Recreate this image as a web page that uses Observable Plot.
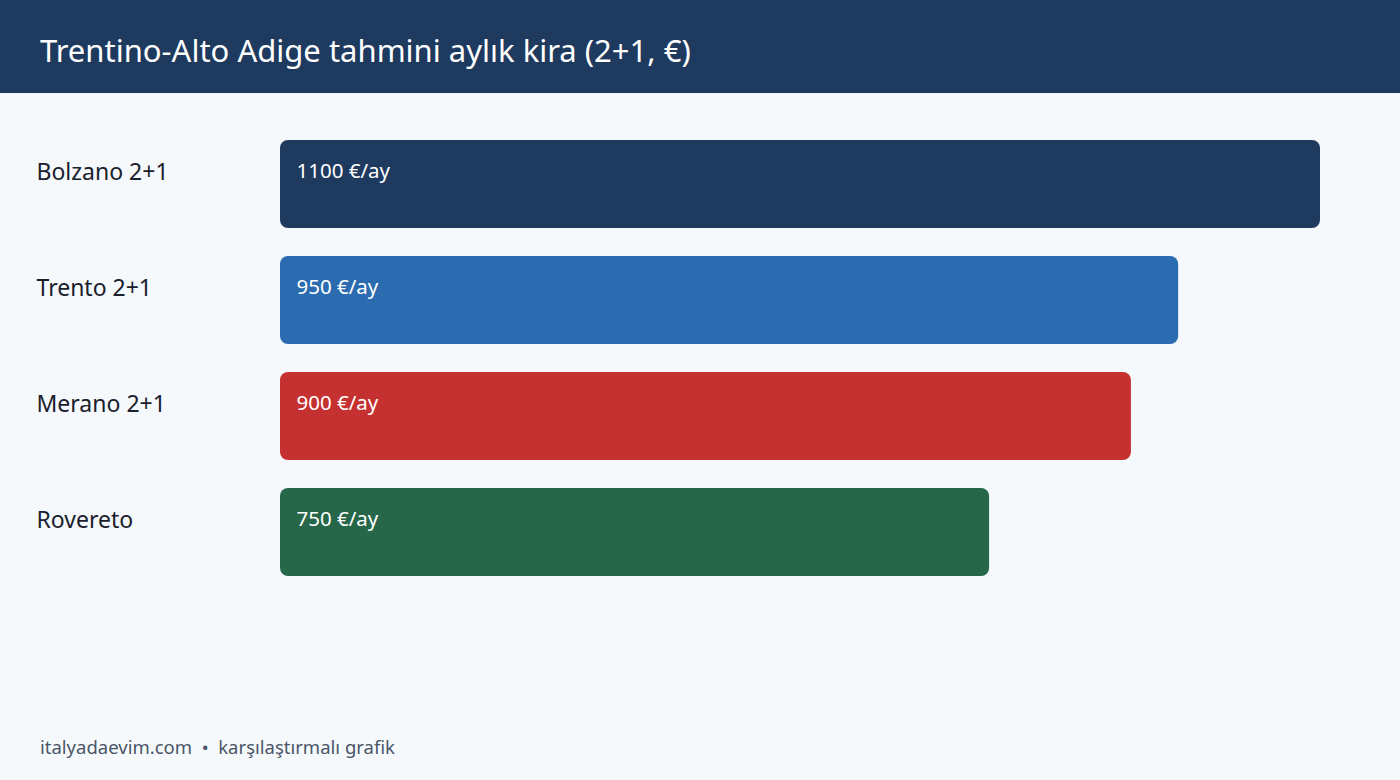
<!DOCTYPE html>
<html>
<head>
<meta charset="utf-8">
<script src="https://cdn.jsdelivr.net/npm/d3@7"></script>
<script src="https://cdn.jsdelivr.net/npm/@observablehq/plot@0.6"></script>
<style>
  html, body { margin: 0; padding: 0; width: 1400px; height: 780px; background: #f5f9fc; overflow: hidden; font-family: "Noto Sans", sans-serif; }
  #header { position: absolute; left: 0; top: 0; width: 1400px; height: 93px; background: #1f3a5f; }
  #title { position: absolute; left: 40px; top: 0; line-height: 100px; height: 93px; color: #ffffff; font-size: 31px; white-space: nowrap; }
  #chart { position: absolute; left: 0; top: 93px; }
  #footer { position: absolute; left: 40px; top: 734px; color: #4a5568; font-size: 18.5px; white-space: nowrap; }
</style>
</head>
<body>
<div id="header"><div id="title">Trentino-Alto Adige tahmini aylık kira (2+1, €)</div></div>
<div id="chart"></div>
<div id="footer">italyadaevim.com &nbsp;•&nbsp; karşılaştırmalı grafik</div>
<script>
const cities = ["Bolzano 2+1", "Trento 2+1", "Merano 2+1", "Rovereto"];
const rents = [1100, 950, 900, 750];
const colors = ["#1f3a5f", "#2b6cb0", "#c53030", "#276749"];
const valueLabels = rents.map(v => `${v} €/ay`);

const data = cities.map((c, i) => ({city: c, rent: rents[i], label: valueLabels[i]}));

const chart = Plot.plot({
  width: 1400,
  height: 600,
  margin: 0,
  style: {background: "transparent", fontFamily: "Noto Sans, sans-serif"},
  x: {domain: [0, 1100], range: [280, 1320], axis: null},
  y: {domain: cities, range: [47, 483], paddingInner: 28 / 116, paddingOuter: 0, axis: null},
  color: {domain: cities, range: colors},
  marks: [
    Plot.barX(data, {x: "rent", y: "city", fill: "city", rx: 8, ry: 8}),
    Plot.text(data, {x: 0, y: "city", text: "city", dx: -244, dy: -12, textAnchor: "start", fill: "#1a202c", fontSize: 23}),
    Plot.text(data, {x: 0, y: "city", text: "label", dx: 16, dy: -13, textAnchor: "start", fill: "#ffffff", fontSize: 20.5})
  ]
});
document.getElementById("chart").appendChild(chart);
</script>
</body>
</html>
